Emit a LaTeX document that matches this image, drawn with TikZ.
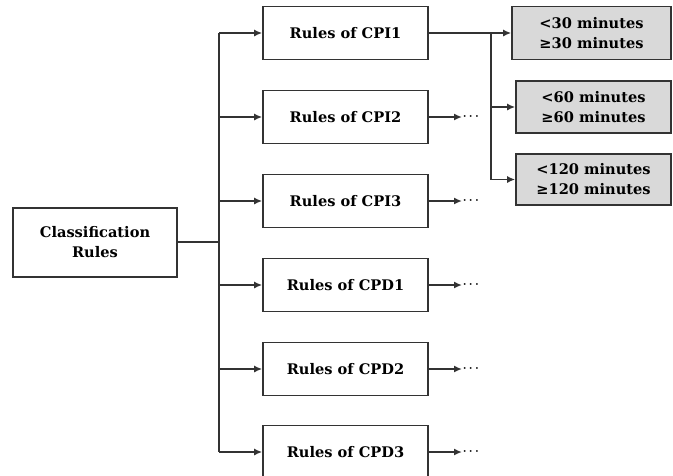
\documentclass[tikz,border=0pt]{standalone}
\usepackage{fontspec}
\setmainfont{DejaVu Serif}
\usetikzlibrary{arrows.meta,calc}
\begin{document}
\begin{tikzpicture}[x=1pt,y=-1pt,
  line width=1.6pt,
  every node/.style={inner sep=0pt,font=\bfseries\fontsize{14.6}{20}\selectfont,align=center},
  rulebox/.style={draw=black!80,fill=white,minimum width=165pt,minimum height=53pt},
  timebox/.style={draw=black!80,fill=black!15,minimum height=53pt},
  conn/.style={draw=black!80},
  arr/.style={conn,-{Latex[length=8pt,width=7pt]}}]
\useasboundingbox (0,0) rectangle (673,475);
% root
\node[draw=black!80,minimum width=164pt,minimum height=69pt] (cls) at (95,242.5) {Classification\\Rules};
% rule boxes
\node[rulebox] (r1) at (345.5,33) {Rules of CPI1};
\node[rulebox] (r2) at (345.5,117) {Rules of CPI2};
\node[rulebox] (r3) at (345.5,201) {Rules of CPI3};
\node[rulebox] (r4) at (345.5,285) {Rules of CPD1};
\node[rulebox] (r5) at (345.5,369) {Rules of CPD2};
\node[rulebox] (r6) at (345.5,452) {Rules of CPD3};
% time windows of CPI1
\node[timebox,minimum width=159pt] (g1) at (591.5,33) {<30 minutes\\≥30 minutes};
\node[timebox,minimum width=155pt,minimum height=52pt] (g2) at (593.5,107) {<60 minutes\\≥60 minutes};
\node[timebox,minimum width=155pt,minimum height=51pt] (g3) at (593.5,179.5) {<120 minutes\\≥120 minutes};
% continuation dots
\foreach \i/\y in {2/117,3/201,4/285,5/369,6/452}
  \node[anchor=west,font=\fontsize{12.5}{12.5}\selectfont\boldmath] (d\i) at (462,\y) {$\cdots$};
% trunk from the root
\coordinate (tr) at (219,242);
\draw[conn] (cls.east |- tr) -- (tr);
\draw[conn] (tr |- r1) -- (tr |- r6);
\foreach \i in {1,...,6}
  \draw[arr] (tr |- r\i) -- (r\i.west);
% branch of CPI1
\coordinate (br) at (491,33);
\draw[arr] (r1.east) -- (g1.west);
\draw[conn] (br) -- (br |- g3);
\draw[arr] (br |- g2) -- (g2.west);
\draw[arr] (br |- g3) -- (g3.west);
% arrows to the dots
\foreach \i in {2,...,6}
  \draw[arr] (r\i.east) -- (d\i.west);
\end{tikzpicture}
\end{document}
